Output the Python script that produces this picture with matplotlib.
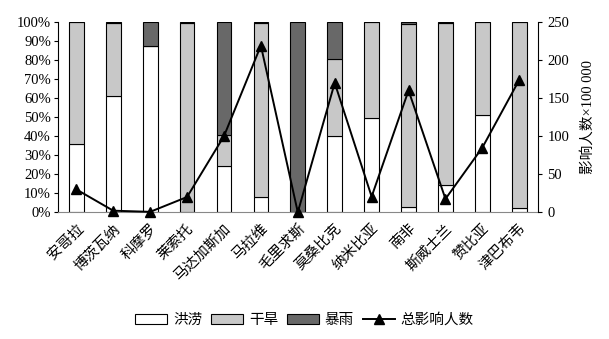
import matplotlib
matplotlib.use("Agg")
import matplotlib.pyplot as plt
from matplotlib.patches import Patch
from matplotlib.lines import Line2D
import numpy as np

plt.rcParams['font.family'] = ['Liberation Serif', 'Noto Sans CJK SC', 'DejaVu Sans']

countries = ['安哥拉', '博茨瓦纳', '科摩罗', '莱索托', '马达加斯加', '马拉维', '毛里求斯',
             '莫桑比克', '纳米比亚', '南非', '斯威士兰', '赞比亚', '津巴布韦']
flood   = [36, 61, 87.4, 0, 24.4, 7.9, 0, 40, 49.5, 2.6, 14.4, 51, 2.1]
drought = [64, 38.5, 0, 99.5, 16.1, 91.6, 0, 40.8, 50.5, 96.4, 85.3, 49, 97.9]
storm   = [0, 0.5, 12.6, 0.5, 59.5, 0.5, 100, 19.2, 0, 1.0, 0.3, 0, 0]
affected = [30, 2, 0.5, 20, 100, 219, 0, 170, 20.5, 160, 17.5, 85, 174]

fig = plt.figure(figsize=(6.09, 3.39), dpi=100)
ax = fig.add_axes([0.095, 0.374, 0.788, 0.561])
x = np.arange(len(countries))
w = 0.4
fs = 10.5
ax.bar(x, flood, w, color='white', edgecolor='black', linewidth=0.8)
ax.bar(x, drought, w, bottom=flood, color='#c8c8c8', edgecolor='black', linewidth=0.8)
b2 = np.array(flood) + np.array(drought)
ax.bar(x, storm, w, bottom=b2, color='#686868', edgecolor='black', linewidth=0.8)

ax.set_xlim(-0.5, len(countries) - 0.5)
ax.set_ylim(0, 100)
ax.set_yticks(range(0, 101, 10))
ax.set_yticklabels([f'{v}%' for v in range(0, 101, 10)], fontsize=fs)
ax.set_xticks(x)
ax.set_xticklabels(countries, rotation=45, ha='right', rotation_mode='anchor', fontsize=fs)
ax.tick_params(axis='x', length=0, pad=7)
ax.tick_params(axis='y', length=3, width=0.8, pad=2)
ax.spines['top'].set_visible(False)
ax.spines['right'].set_visible(False)
ax.spines['bottom'].set_color('#888888')

ax2 = ax.twinx()
ax2.plot(x, affected, color='black', linewidth=1.4, marker='^', markersize=7, clip_on=False, zorder=5)
ax2.set_ylim(0, 250)
ax2.set_yticks(range(0, 251, 50))
ax2.set_yticklabels([str(v) for v in range(0, 251, 50)], fontsize=fs)
ax2.tick_params(axis='y', length=3, width=0.8, pad=4)
ax2.set_ylabel('影响人数×100 000', fontsize=fs, labelpad=8)
ax2.spines['top'].set_visible(False)
ax2.spines['left'].set_visible(False)
ax2.spines['bottom'].set_visible(False)

handles = [Patch(facecolor='white', edgecolor='black', linewidth=0.8),
           Patch(facecolor='#c8c8c8', edgecolor='black', linewidth=0.8),
           Patch(facecolor='#686868', edgecolor='black', linewidth=0.8),
           Line2D([0], [0], color='black', linewidth=1.4, marker='^', markersize=7)]
fig.legend(handles, ['洪涝', '干旱', '暴雨', '总影响人数'], loc='center', bbox_to_anchor=(0.5, 0.056),
           ncol=4, frameon=False, fontsize=fs, handlelength=2.2, handletextpad=0.4, columnspacing=0.6)

fig.savefig('out.png', dpi=100)
